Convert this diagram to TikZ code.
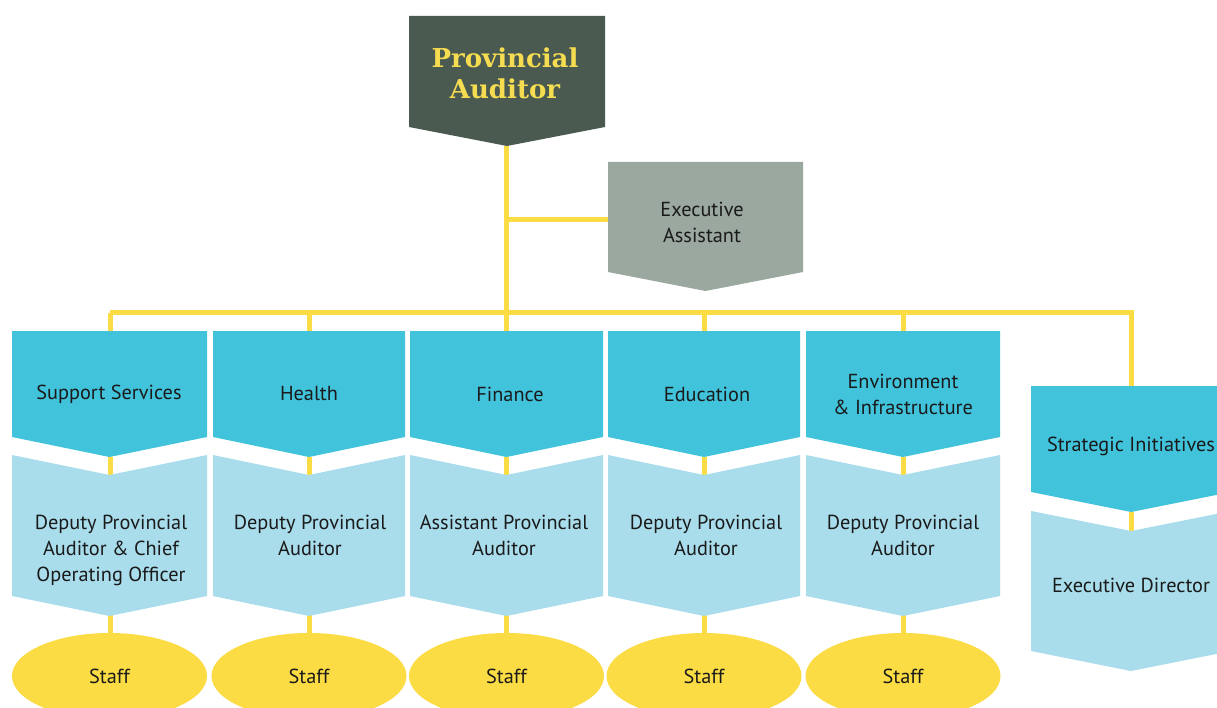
\documentclass[tikz,border=0pt]{standalone}
\usepackage{fontspec}
\setmainfont{PT Sans}
\newfontfamily\titlefont{DejaVu Serif}
\usetikzlibrary{shapes.geometric}
\definecolor{padark}{HTML}{4A5A50}
\definecolor{patext}{HTML}{F5DC50}
\definecolor{eagray}{HTML}{9AA8A0}
\definecolor{cyanbox}{HTML}{41C3DC}
\definecolor{lightbox}{HTML}{A9DDEC}
\definecolor{linky}{HTML}{FCDC44}
\definecolor{txt}{HTML}{1A1A1A}
% arrow box: left, right, top, side-bottom, tip, fill
\newcommand\arrowbox[6]{\fill[#6] (#1,#3) -- (#2,#3) -- (#2,#4) -- ({(#1+#2)/2},#5) -- (#1,#4) -- cycle;}
% notched box: left, right, top-sides, notch, side-bottom, tip, fill
\newcommand\notchbox[7]{\fill[#7] (#1,#3) -- ({(#1+#2)/2},#4) -- (#2,#3) -- (#2,#5) -- ({(#1+#2)/2},#6) -- (#1,#5) -- cycle;}
\begin{document}
\begin{tikzpicture}[x=1pt,y=-1pt,
  conn/.style={draw=linky,line width=5pt},
  lbl/.style={text=txt,font=\fontsize{20.3}{26}\selectfont,align=center,inner sep=0pt},
  staffnode/.style={ellipse,fill=linky,minimum width=195pt,minimum height=86pt,inner sep=0pt,text=txt,font=\fontsize{20.3}{24}\selectfont}]
\useasboundingbox (0,0) rectangle (1217,708);
\fill[white] (0,0) rectangle (1217,708);

% coordinates
\coordinate (patip) at (506,146);
\coordinate (eajoin) at (506,220);
\coordinate (ealeft) at (608,220);
\coordinate (busL) at (110,313);
\coordinate (busR) at (1131,313);
\coordinate (sitop) at (1131,386);
\coordinate (sitip) at (1131,512);
\coordinate (ednotch) at (1131,531);

% connectors (behind shapes)
\draw[conn] (patip) -- (506,331);
\draw[conn] (eajoin) -- (ealeft);
\draw[conn] (busL) -- (busR) -- (sitop);
\draw[conn] (sitip) -- (ednotch);
\foreach \c in {110,309,506,704,903}{
  \draw[conn] (\c,313) -- (\c,331);
  \draw[conn] (\c,457) -- (\c,640);
}

% top boxes
\arrowbox{409}{605}{16}{127}{146}{padark}
\node[text=patext,font=\titlefont\bfseries\fontsize{26}{31}\selectfont,align=center,inner sep=0pt] (pa) at (505,73) {Provincial\\Auditor};
\arrowbox{608}{803}{162}{272}{291}{eagray}
\node[lbl] (ea) at (702,222) {Executive\\Assistant};

% columns
\arrowbox{12}{207}{331}{437}{457}{cyanbox}
\arrowbox{213}{405}{331}{437}{457}{cyanbox}
\arrowbox{410}{603}{331}{437}{457}{cyanbox}
\arrowbox{608}{800}{331}{437}{457}{cyanbox}
\arrowbox{806}{1000}{331}{437}{457}{cyanbox}
\notchbox{12}{207}{455}{475}{596}{616}{lightbox}
\notchbox{213}{405}{455}{475}{596}{616}{lightbox}
\notchbox{410}{603}{455}{475}{596}{616}{lightbox}
\notchbox{608}{800}{455}{475}{596}{616}{lightbox}
\notchbox{806}{1000}{455}{475}{596}{616}{lightbox}

\node[lbl] (dept1) at (109,394) {Support Services};
\node[lbl] (dept2) at (309,394) {Health};
\node[lbl] (dept3) at (510,394) {Finance};
\node[lbl] (dept4) at (707,394) {Education};
\node[lbl] (dept5) at (903,394) {Environment\\\& Infrastructure};

\node[lbl,anchor=north] (head1) at (111,515) {Deputy Provincial\\Auditor \& Chief\\Operating Officer};
\node[lbl,anchor=north] (head2) at (310,515) {Deputy Provincial\\Auditor};
\node[lbl,anchor=north] (head3) at (504,515) {Assistant Provincial\\Auditor};
\node[lbl,anchor=north] (head4) at (706,515) {Deputy Provincial\\Auditor};
\node[lbl,anchor=north] (head5) at (903,515) {Deputy Provincial\\Auditor};

\node[staffnode] (staff1) at (109.5,676) {Staff};
\node[staffnode] (staff2) at (309,676) {Staff};
\node[staffnode] (staff3) at (506.5,676) {Staff};
\node[staffnode] (staff4) at (704,676) {Staff};
\node[staffnode] (staff5) at (903,676) {Staff};

% right column
\arrowbox{1031}{1231}{386}{492}{512}{cyanbox}
\notchbox{1031}{1231}{511}{531}{651}{671}{lightbox}
\node[lbl] (si) at (1131,446) {Strategic Initiatives};
\node[lbl] (ed) at (1131,585) {Executive Director};
\end{tikzpicture}
\end{document}
